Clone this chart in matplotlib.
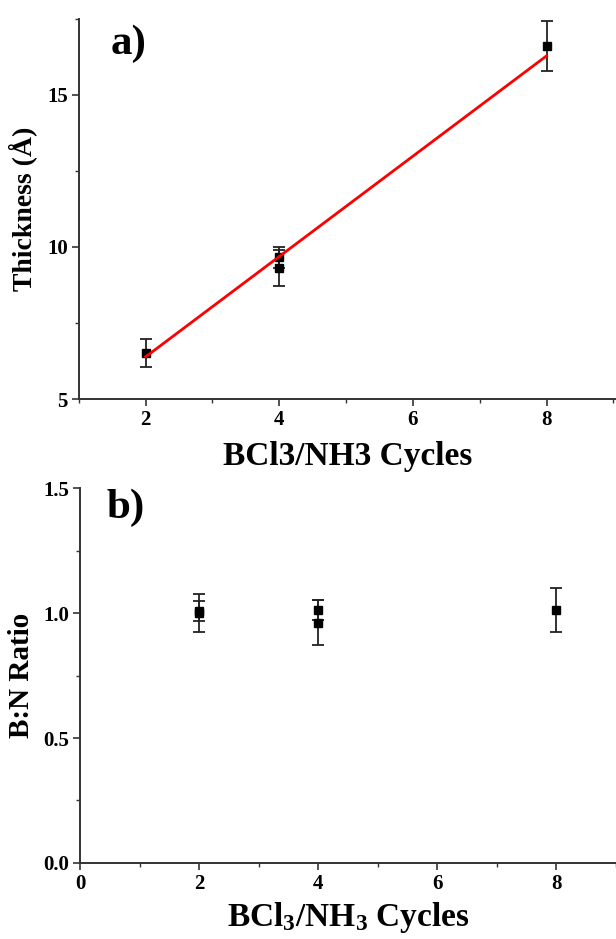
import matplotlib
matplotlib.use('Agg')
from matplotlib import pyplot as plt
from matplotlib.ticker import MultipleLocator

plt.rcParams['font.family'] = ['Liberation Serif', 'DejaVu Serif']
plt.rcParams['font.weight'] = 'bold'
plt.rcParams['mathtext.fontset'] = 'custom'
plt.rcParams['mathtext.rm'] = 'Liberation Serif:bold'
plt.rcParams['mathtext.bf'] = 'Liberation Serif:bold'
plt.rcParams['mathtext.it'] = 'Liberation Serif:bold'

# panel a: film thickness vs cycles
cycles_a = [2, 4, 4, 8]
thickness = [6.50, 9.66, 9.30, 16.61]
thickness_err = [0.46, 0.35, 0.59, 0.81]
fit_x = [2, 8]
fit_y = [6.39, 16.28]

# panel b: B:N ratio vs cycles
cycles_b = [2, 2, 4, 4, 8]
ratio = [1.00, 1.01, 1.012, 0.962, 1.012]
ratio_err = [0.075, 0.04, 0.04, 0.09, 0.088]

edge = '#333333'

fig = plt.figure(figsize=(6.16, 9.39), dpi=100)
ax1 = fig.add_axes([0.128, 0.575, 0.872, 0.405])
ax2 = fig.add_axes([0.130, 0.081, 0.870, 0.399])

for ax in (ax1, ax2):
    ax.spines['top'].set_visible(False)
    ax.spines['right'].set_visible(False)
    for s in ('left', 'bottom'):
        ax.spines[s].set_color(edge)
        ax.spines[s].set_linewidth(1.4)
    ax.tick_params(which='major', direction='out', length=5, width=1.2,
                   color=edge, labelsize=15, pad=3)
    ax.tick_params(which='minor', direction='out', length=3, width=1.0, color=edge)

ax1.errorbar(cycles_a, thickness, yerr=thickness_err, fmt='s', color='black',
             ms=6, ecolor='#222222', elinewidth=1.3, capsize=4, capthick=1.3, zorder=3)
ax1.plot(fit_x, fit_y, color='red', lw=2, zorder=4)
ax1.set_xlim(1, 9.04)
ax1.set_ylim(5, 17.5)
ax1.set_xticks([2, 4, 6, 8])
ax1.set_yticks([5, 10, 15])
ax1.xaxis.set_minor_locator(MultipleLocator(1))
ax1.yaxis.set_minor_locator(MultipleLocator(2.5))
ax1.set_xlabel('BCl3/NH3 Cycles', fontsize=24, fontweight='bold', labelpad=8)
ax1.set_ylabel('Thickness (Å)', fontsize=20, fontweight='bold', labelpad=7)
ax1.text(0.06, 0.985, 'a)', transform=ax1.transAxes, fontsize=31,
         fontweight='bold', va='top', ha='left')

ax2.errorbar(cycles_b, ratio, yerr=ratio_err, fmt='s', color='black',
             ms=6, ecolor='#222222', elinewidth=1.3, capsize=4, capthick=1.3, zorder=3)
ax2.set_xlim(0, 9.0)
ax2.set_ylim(0, 1.5)
ax2.set_xticks([0, 2, 4, 6, 8])
ax2.set_yticks([0.0, 0.5, 1.0, 1.5])
ax2.set_yticklabels(['0.0', '0.5', '1.0', '1.5'])
ax2.xaxis.set_minor_locator(MultipleLocator(1))
ax2.yaxis.set_minor_locator(MultipleLocator(0.25))
ax2.set_xlabel(r'BCl$_\mathbf{3}$/NH$_\mathbf{3}$ Cycles', fontsize=24,
               fontweight='bold', labelpad=4)
ax2.set_ylabel('B:N Ratio', fontsize=21, fontweight='bold', labelpad=6)
ax2.text(0.05, 1.0, 'b)', transform=ax2.transAxes, fontsize=31,
         fontweight='bold', va='top', ha='left')

for ax in (ax1, ax2):
    for lab in ax.get_xticklabels() + ax.get_yticklabels():
        lab.set_fontweight('bold')

fig.savefig('out.png', dpi=100)
